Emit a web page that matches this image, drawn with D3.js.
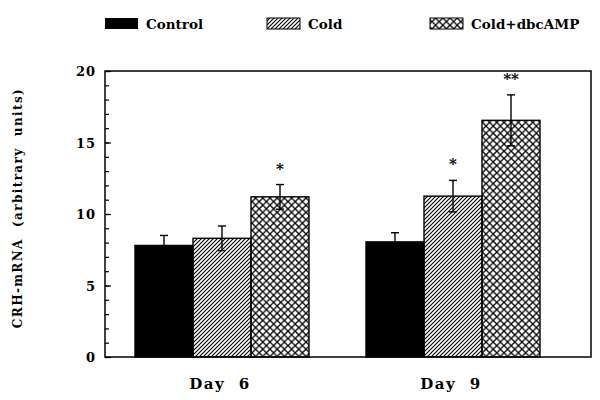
<!DOCTYPE html>
<html>
<head>
<meta charset="utf-8">
<script src="https://cdn.jsdelivr.net/npm/d3@7"></script>
<style>
  html, body { margin: 0; padding: 0; background: #fff; }
  svg { display: block; }
  text { font-family: "DejaVu Serif", "Liberation Serif", serif; font-weight: bold; fill: #000; }
</style>
</head>
<body>
<svg id="chart" width="600" height="400"></svg>
<script>
// ---- data ----
const days = ["Day 6", "Day 9"];
const dayLabels = ["Day  6", "Day  9"];
const groups = ["Control", "Cold", "Cold+dbcAMP"];
const controlMeans = [7.8, 8.05];
const coldMeans = [8.3, 11.25];
const dbcMeans = [11.2, 16.55];
const controlErr = [0.7, 0.64];
const coldErr = [0.86, 1.1];
const dbcErr = [0.86, 1.78];
const controlSig = ["", ""];
const coldSig = ["", "*"];
const dbcSig = ["*", "**"];
const yTicks = [0, 5, 10, 15, 20];
const yMinorTicks = d3.range(0, 21, 1);

const meansBy = [controlMeans, coldMeans, dbcMeans];
const errBy = [controlErr, coldErr, dbcErr];
const sigBy = [controlSig, coldSig, dbcSig];

const rows = [];
days.forEach((d, i) => groups.forEach((g, j) => {
  rows.push({ day: d, group: g, value: meansBy[j][i], err: errBy[j][i], sig: sigBy[j][i] });
}));

// ---- layout ----
const svg = d3.select("#chart");
const plot = { left: 105, right: 591, top: 71, bottom: 357 };

const y = d3.scaleLinear().domain([0, 20]).range([plot.bottom, plot.top]);
const x0 = d3.scaleBand().domain(days).range([135, 540]).paddingInner(57 / 231).paddingOuter(0);
const x1 = d3.scaleBand().domain(groups).range([0, x0.bandwidth()]);

// patterns
const defs = svg.append("defs");
const pCold = defs.append("pattern").attr("id", "hatch").attr("patternUnits", "userSpaceOnUse")
  .attr("width", 4).attr("height", 4);
pCold.append("path").attr("d", "M-1,1 L1,-1 M0,4 L4,0 M3,5 L5,3")
  .attr("stroke", "#000").attr("stroke-width", 1.1);
const pCross = defs.append("pattern").attr("id", "cross").attr("patternUnits", "userSpaceOnUse")
  .attr("width", 7.2).attr("height", 7.2);
pCross.append("path").attr("d", "M0,0 L7.2,7.2 M0,7.2 L7.2,0")
  .attr("stroke", "#000").attr("stroke-width", 1.3);

const fillFor = { "Control": "#000", "Cold": "url(#hatch)", "Cold+dbcAMP": "url(#cross)" };

// bars
svg.append("g").selectAll("rect").data(rows).join("rect")
  .attr("x", d => x0(d.day) + x1(d.group))
  .attr("y", d => y(d.value))
  .attr("width", x1.bandwidth())
  .attr("height", d => y(0) - y(d.value))
  .attr("fill", d => fillFor[d.group])
  .attr("stroke", "#000").attr("stroke-width", 1.4);

// error bars
const eb = svg.append("g").attr("stroke", "#000").attr("stroke-width", 1.4);
rows.forEach(d => {
  const cx = x0(d.day) + x1(d.group) + x1.bandwidth() / 2;
  const yt = y(d.value + d.err), yb = y(d.value - d.err);
  eb.append("line").attr("x1", cx).attr("x2", cx).attr("y1", yt).attr("y2", yb);
  eb.append("line").attr("x1", cx - 4).attr("x2", cx + 4).attr("y1", yt).attr("y2", yt);
  eb.append("line").attr("x1", cx - 4).attr("x2", cx + 4).attr("y1", yb).attr("y2", yb);
  if (d.sig) {
    svg.append("text").attr("x", cx).attr("y", yt - 11)
      .attr("text-anchor", "middle").attr("font-size", 15).text(d.sig);
  }
});

// frame
svg.append("rect").attr("x", plot.left).attr("y", plot.top)
  .attr("width", plot.right - plot.left).attr("height", plot.bottom - plot.top)
  .attr("fill", "none").attr("stroke", "#000").attr("stroke-width", 1.5);

// y axis minor ticks (inward)
const minorAxis = d3.axisLeft(y).tickValues(yMinorTicks).tickSizeInner(-4).tickSizeOuter(0).tickFormat("");
const gMinor = svg.append("g").attr("transform", `translate(${plot.left},0)`).call(minorAxis);
gMinor.select(".domain").remove();
gMinor.selectAll("line").attr("stroke-width", 1.2);

// y axis major ticks + labels
const majorAxis = d3.axisLeft(y).tickValues(yTicks).tickSizeInner(-6).tickSizeOuter(0).tickPadding(10);
const gMajor = svg.append("g").attr("transform", `translate(${plot.left},0)`).call(majorAxis);
gMajor.select(".domain").remove();
gMajor.selectAll("line").attr("stroke-width", 1.2);
gMajor.selectAll("text")
  .attr("font-family", "DejaVu Serif, serif").attr("font-weight", "bold")
  .attr("font-size", 13).attr("letter-spacing", 1).attr("fill", "#000")
  .attr("x", -9).attr("dy", "0.35em");

// x labels
svg.append("g").selectAll("text").data(days).join("text")
  .attr("x", d => x0(d) + x0.bandwidth() / 2 - 2)
  .attr("y", 389)
  .attr("text-anchor", "middle")
  .attr("font-size", 15).attr("letter-spacing", 1.5)
  .style("white-space", "pre")
  .text((d, i) => dayLabels[i]);

// y label
svg.append("text")
  .attr("transform", "translate(22,208) rotate(-90)")
  .attr("text-anchor", "middle")
  .attr("font-size", 12).attr("letter-spacing", 1.4)
  .style("white-space", "pre")
  .text("CRH-mRNA  (arbitrary  units)");

// legend
const legendX = [105, 267, 430];
const lg = svg.append("g");
groups.forEach((g, i) => {
  lg.append("rect").attr("x", legendX[i]).attr("y", 18).attr("width", 33).attr("height", 11)
    .attr("fill", fillFor[g]).attr("stroke", "#000").attr("stroke-width", i === 0 ? 0 : 1);
  lg.append("text").attr("x", legendX[i] + 41).attr("y", 29)
    .attr("font-size", 13.5).text(g);
});
</script>
</body>
</html>
